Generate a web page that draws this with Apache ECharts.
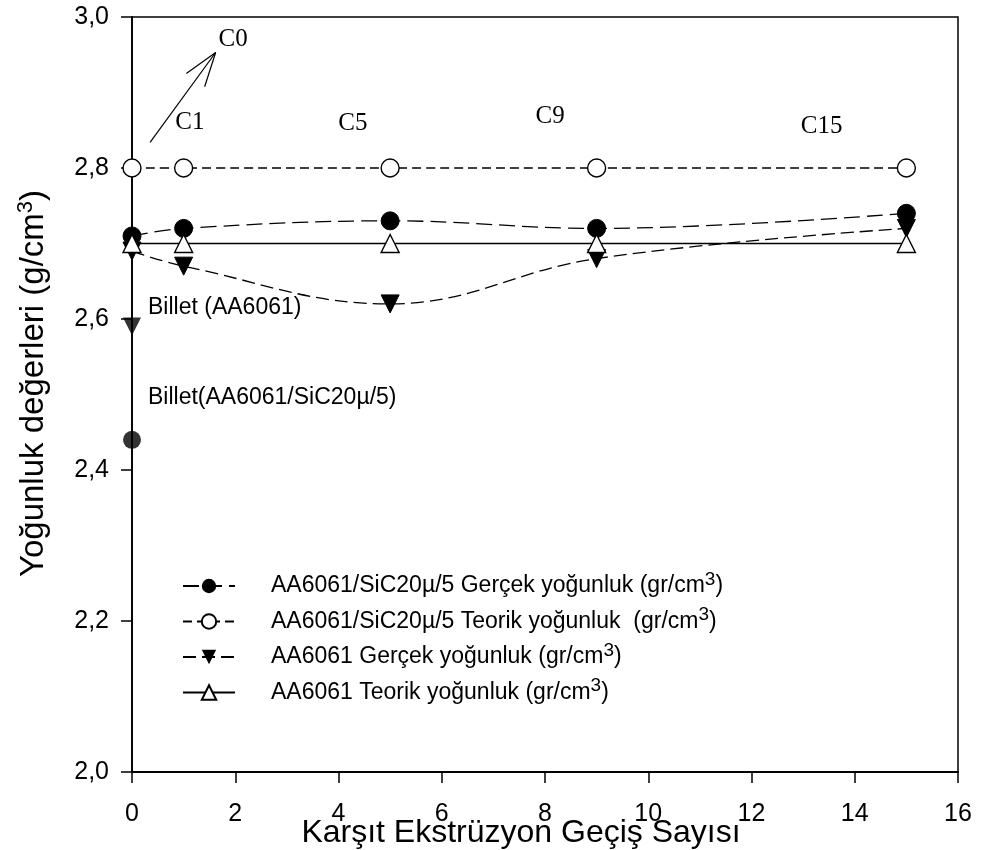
<!DOCTYPE html>
<html>
<head>
<meta charset="utf-8">
<script src="https://cdn.jsdelivr.net/npm/echarts@6/dist/echarts.min.js"></script>
<style>
  html, body { margin: 0; padding: 0; background: #fff; }
</style>
</head>
<body>
<div id="chart" style="width: 985px; height: 850px;"></div>
<script>
  // passes (x axis)
  const passes = [0, 1, 5, 9, 15]

  // density values
  const sicReal = [2.71, 2.72, 2.73, 2.72, 2.74]
  const sicTheo = [2.80, 2.80, 2.80, 2.80, 2.80]
  const alReal = [2.69, 2.67, 2.62, 2.68, 2.72]
  const alTheo = [2.70, 2.70, 2.70, 2.70, 2.70]

  // billet points at x = 0
  const sicBillet = [[0, 2.44]]
  const alBillet = [[0, 2.59]]

  const seriesNames = [
    'AA6061/SiC20µ/5 Gerçek yoğunluk (gr/cm3)',
    'AA6061/SiC20µ/5 Teorik yoğunluk  (gr/cm3)',
    'AA6061 Gerçek yoğunluk (gr/cm3)',
    'AA6061 Teorik yoğunluk (gr/cm3)'
  ]

  // text notes, in data coordinates
  const passLabels = [
    { text: 'C0', x: 1.96, y: 2.97 },
    { text: 'C1', x: 1.12, y: 2.861 },
    { text: 'C5', x: 4.28, y: 2.859 },
    { text: 'C9', x: 8.10, y: 2.868 },
    { text: 'C15', x: 13.36, y: 2.855 }
  ]
  const billetLabels = [
    { text: 'Billet (AA6061)', x: 0.31, y: 2.615 },
    { text: 'Billet(AA6061/SiC20µ/5)', x: 0.31, y: 2.496 }
  ]
  const arrow = { from: [0.35, 2.834], to: [1.62, 2.953] }

  const pairs = (ys) => passes.map((x, i) => [x, ys[i]])
  const comma = (v) => v.toFixed(1).replace('.', ',')

  const chart = echarts.init(document.getElementById('chart'))

  const base = {
    type: 'line',
    smooth: 0.4,
    symbolSize: 18,
    showAllSymbol: true,
    z: 3
  }

  const option = {
    animation: false,
    backgroundColor: '#fff',
    textStyle: { fontFamily: 'Liberation Sans, Arial, sans-serif', color: '#000' },
    grid: {
      left: 132, right: 27, top: 17, bottom: 78,
      outerBoundsMode: 'none',
      show: true, borderColor: '#000', borderWidth: 1.5
    },
    legend: {
      orient: 'vertical',
      left: 177,
      top: 565,
      itemWidth: 52,
      itemHeight: 18,
      itemGap: 8,
      data: seriesNames,
      formatter: (n) => n.replace('cm3', 'cm{sup|3}'),
      textStyle: {
        fontSize: 23,
        color: '#000',
        padding: [0, 0, 0, 31],
        rich: {
          sup: { fontSize: 19, verticalAlign: 'top', padding: [0, 0, 13, 0] }
        }
      }
    },
    xAxis: {
      type: 'value',
      min: 0, max: 16, interval: 2,
      name: 'Karşıt Ekstrüzyon Geçiş Sayısı',
      nameLocation: 'middle',
      nameGap: 45,
      nameMoveOverlap: false,
      nameTextStyle: { fontSize: 32, color: '#000', padding: [0, 48, 0, 0] },
      axisLine: { lineStyle: { color: '#000', width: 1.8 } },
      axisTick: { length: 11, lineStyle: { color: '#000', width: 1.5 } },
      axisLabel: { fontSize: 25, color: '#000', margin: 30 },
      splitLine: { show: false }
    },
    yAxis: {
      type: 'value',
      min: 2.0, max: 3.0, interval: 0.2,
      name: 'Yoğunluk değerleri (g/cm3)',
      nameLocation: 'middle',
      nameGap: 80,
      nameMoveOverlap: false,
      nameTextStyle: {
        fontSize: 33, color: '#000', padding: [0, 0, 0, 22],
        rich: { sup: { fontSize: 22, verticalAlign: 'top', padding: [0, 0, 15, 0] } }
      },
      axisLine: { show: true, lineStyle: { color: '#000', width: 1.8 } },
      axisTick: { show: true, length: 11, lineStyle: { color: '#000', width: 1.5 } },
      axisLabel: { fontSize: 25, color: '#000', margin: 23, formatter: comma },
      splitLine: { show: false }
    },
    series: [
      Object.assign({}, base, {
        name: seriesNames[0],
        data: pairs(sicReal),
        symbol: 'circle',
        itemStyle: { color: '#000', borderColor: '#000' },
        lineStyle: { color: '#000', width: 1.3, type: [16, 7] }
      }),
      Object.assign({}, base, {
        name: seriesNames[1],
        data: pairs(sicTheo),
        symbol: 'circle',
        itemStyle: { color: '#fff', borderColor: '#000', borderWidth: 1.4 },
        lineStyle: { color: '#000', width: 1.3, type: [9, 5] }
      }),
      Object.assign({}, base, {
        name: seriesNames[2],
        data: pairs(alReal),
        symbol: 'triangle',
        symbolRotate: 180,
        itemStyle: { color: '#000', borderColor: '#000' },
        lineStyle: { color: '#000', width: 1.3, type: [13, 6] }
      }),
      Object.assign({}, base, {
        name: seriesNames[3],
        data: pairs(alTheo),
        symbol: 'triangle',
        itemStyle: { color: '#fff', borderColor: '#000', borderWidth: 1.4 },
        lineStyle: { color: '#000', width: 1.3, type: 'solid' },
        z: 4
      }),
      {
        type: 'scatter',
        name: 'sicBillet',
        data: sicBillet,
        symbol: 'circle',
        symbolSize: 18,
        itemStyle: { color: '#000' },
        z: 5
      },
      {
        type: 'scatter',
        name: 'alBillet',
        data: alBillet,
        symbol: 'triangle',
        symbolRotate: 180,
        symbolSize: 18,
        itemStyle: { color: '#000' },
        z: 5
      }
    ]
  }

  chart.setOption(option)

  // place notes via the axes
  const px = (x, y) => chart.convertToPixel({ gridIndex: 0 }, [x, y])
  const graphics = []
  passLabels.forEach(l => {
    const p = px(l.x, l.y)
    graphics.push({
      type: 'text', x: p[0], y: p[1],
      style: {
        text: l.text, fontSize: 25, fontFamily: 'Liberation Serif, Times New Roman, serif',
        fill: '#000', align: 'center', verticalAlign: 'middle'
      }
    })
  })
  billetLabels.forEach(l => {
    const p = px(l.x, l.y)
    graphics.push({
      type: 'text', x: p[0], y: p[1],
      style: {
        text: l.text, fontSize: 23, fontFamily: 'Liberation Sans, Arial, sans-serif',
        fill: '#000', align: 'left', verticalAlign: 'middle'
      }
    })
  })
  const a = px(arrow.from[0], arrow.from[1])
  const b = px(arrow.to[0], arrow.to[1])
  const ang = Math.atan2(b[1] - a[1], b[0] - a[0])
  const headLen = 36
  const spread = 0.32
  graphics.push({
    type: 'line',
    shape: { x1: a[0], y1: a[1], x2: b[0], y2: b[1] },
    style: { stroke: '#000', lineWidth: 1.2 }
  })
  ;[-spread, spread].forEach(s => {
    graphics.push({
      type: 'line',
      shape: {
        x1: b[0], y1: b[1],
        x2: b[0] - headLen * Math.cos(ang + s),
        y2: b[1] - headLen * Math.sin(ang + s)
      },
      style: { stroke: '#000', lineWidth: 1.2 }
    })
  })
  option.yAxis.name = 'Yoğunluk değerleri (g/cm{sup|3})'
  chart.setOption({ graphic: graphics, yAxis: { name: option.yAxis.name } })
</script>
</body>
</html>
